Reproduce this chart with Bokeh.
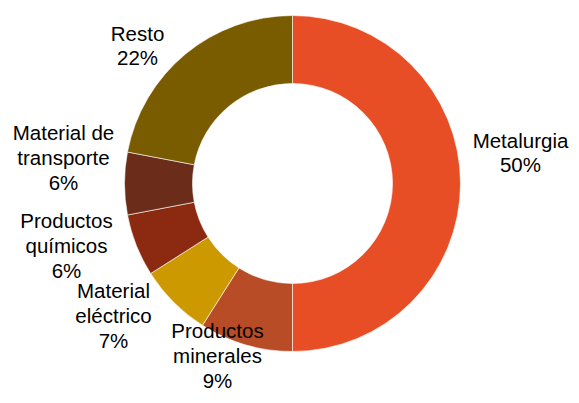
import math
from bokeh.plotting import figure
from bokeh.models import Range1d, ColumnDataSource
from bokeh.core.properties import value
from bokeh.embed import file_html
from bokeh.resources import INLINE

# Data (clockwise from 12 o'clock)
categories = ["Metalurgia", "Productos\nminerales", "Material\neléctrico",
              "Productos\nquímicos", "Material de\ntransporte", "Resto"]
shares = [50, 9, 7, 6, 6, 22]
colors = ["#E84E25", "#B84C27", "#CC9900", "#8B2A10", "#6B2C1A", "#7A5C00"]

# layout constants (pixels)
CX, CY = 292, -183
R_OUT, R_IN = 168, 100
# label block offsets from the donut centre (dx right, dy down)
label_dx = [228, -75, -179, -226, -229, -155]
label_dy = [-31, 172, 132, 62, -26, -138]

total = sum(shares)
starts, ends, lx, ly, texts = [], [], [], [], []
acc = 0.0
for cat, s, dx, dy in zip(categories, shares, label_dx, label_dy):
    t1 = acc / total * 360
    t2 = (acc + s) / total * 360
    acc += s
    starts.append(math.radians(90 - t2))
    ends.append(math.radians(90 - t1))
    lx.append(CX + dx)
    ly.append(CY - dy)
    texts.append(f"{cat}\n{round(s / total * 100)}%")

src = ColumnDataSource(dict(start=starts, end=ends, color=colors))
lsrc = ColumnDataSource(dict(x=lx, y=ly, text=texts))

p = figure(width=571, height=395, output_backend="svg", toolbar_location=None,
           x_range=Range1d(0, 571), y_range=Range1d(-395, 0),
           min_border=0)
p.axis.visible = False
p.grid.visible = False
p.outline_line_color = None
p.background_fill_color = "white"
p.border_fill_color = "white"

p.annular_wedge(x=CX, y=CY, inner_radius=R_IN, outer_radius=R_OUT,
                start_angle="start", end_angle="end", fill_color="color",
                line_color="white", line_width=0.6, source=src)

p.text(x="x", y="y", text="text", source=lsrc, text_align="center",
       text_baseline="middle", text_font=value("Liberation Sans"),
       text_font_size="20.5px", text_color="black", text_line_height=1.07)

open("out.html", "w").write(file_html(p, INLINE))
